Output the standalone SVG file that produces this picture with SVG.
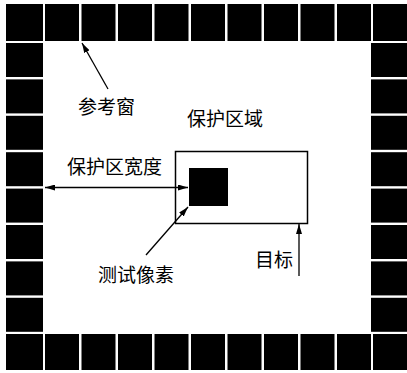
<svg xmlns="http://www.w3.org/2000/svg" width="407" height="373" viewBox="0 0 407 373">
<style>
.sq{fill:#000}
.t{font-family:"Noto Sans CJK SC","Noto Sans CJK JP",sans-serif;font-size:19px;fill:#000}
.ln{stroke:#000;stroke-width:1.3;fill:none}
</style>
<defs>
<marker id="ah" viewBox="0 0 10 6" refX="10" refY="3" markerWidth="10" markerHeight="6" markerUnits="userSpaceOnUse" orient="auto-start-reverse">
<path d="M0,0 L10,3 L0,6 Z" fill="#000"/>
</marker>
</defs>
<rect width="407" height="373" fill="#fff"/>
<g id="reference-window">
<rect class="sq" x="6" y="4" width="37" height="37"/>
<rect class="sq" x="45" y="4" width="34" height="37"/>
<rect class="sq" x="81.5" y="4" width="34" height="37"/>
<rect class="sq" x="118" y="4" width="34" height="37"/>
<rect class="sq" x="154.5" y="4" width="34" height="37"/>
<rect class="sq" x="191" y="4" width="34" height="37"/>
<rect class="sq" x="227.5" y="4" width="34" height="37"/>
<rect class="sq" x="264" y="4" width="34" height="37"/>
<rect class="sq" x="300.5" y="4" width="34" height="37"/>
<rect class="sq" x="337" y="4" width="34" height="37"/>
<rect class="sq" x="373" y="4" width="34" height="37"/>
<rect class="sq" x="6" y="334" width="37" height="36"/>
<rect class="sq" x="45" y="334" width="34" height="36"/>
<rect class="sq" x="81.5" y="334" width="34" height="36"/>
<rect class="sq" x="118" y="334" width="34" height="36"/>
<rect class="sq" x="154.5" y="334" width="34" height="36"/>
<rect class="sq" x="191" y="334" width="34" height="36"/>
<rect class="sq" x="227.5" y="334" width="34" height="36"/>
<rect class="sq" x="264" y="334" width="34" height="36"/>
<rect class="sq" x="300.5" y="334" width="34" height="36"/>
<rect class="sq" x="337" y="334" width="34" height="36"/>
<rect class="sq" x="373" y="334" width="34" height="36"/>
<rect class="sq" x="6" y="43" width="37" height="34"/>
<rect class="sq" x="6" y="79.4" width="37" height="34"/>
<rect class="sq" x="6" y="115.8" width="37" height="34"/>
<rect class="sq" x="6" y="152.2" width="37" height="34"/>
<rect class="sq" x="6" y="188.6" width="37" height="34"/>
<rect class="sq" x="6" y="225" width="37" height="34"/>
<rect class="sq" x="6" y="261.4" width="37" height="34"/>
<rect class="sq" x="6" y="297.8" width="37" height="34"/>
<rect class="sq" x="371" y="43" width="36" height="34"/>
<rect class="sq" x="371" y="79.4" width="36" height="34"/>
<rect class="sq" x="371" y="115.8" width="36" height="34"/>
<rect class="sq" x="371" y="152.2" width="36" height="34"/>
<rect class="sq" x="371" y="188.6" width="36" height="34"/>
<rect class="sq" x="371" y="225" width="36" height="34"/>
<rect class="sq" x="371" y="261.4" width="36" height="34"/>
<rect class="sq" x="371" y="297.8" width="36" height="34"/>
</g>
<g id="protection-area">
<rect x="175.5" y="151.5" width="132" height="72" fill="#fff" stroke="#000" stroke-width="1.5"/>
</g>
<g id="test-pixel">
<rect x="189" y="168" width="39" height="38" fill="#000"/>
</g>
<g id="connectors">
<line class="ln" x1="108" y1="89" x2="82" y2="43" marker-end="url(#ah)"/>
<line class="ln" x1="45" y1="187.5" x2="188" y2="187.5" marker-start="url(#ah)" marker-end="url(#ah)"/>
<line class="ln" x1="146" y1="255" x2="188" y2="207" marker-end="url(#ah)"/>
<line class="ln" x1="299" y1="276" x2="299" y2="224" marker-end="url(#ah)"/>
</g>
<g id="labels">
<text class="t" x="78" y="114">参考窗</text>
<text class="t" x="187" y="126">保护区域</text>
<text class="t" x="67" y="174">保护区宽度</text>
<text class="t" x="98" y="282">测试像素</text>
<text class="t" x="255" y="267">目标</text>
</g>
</svg>
